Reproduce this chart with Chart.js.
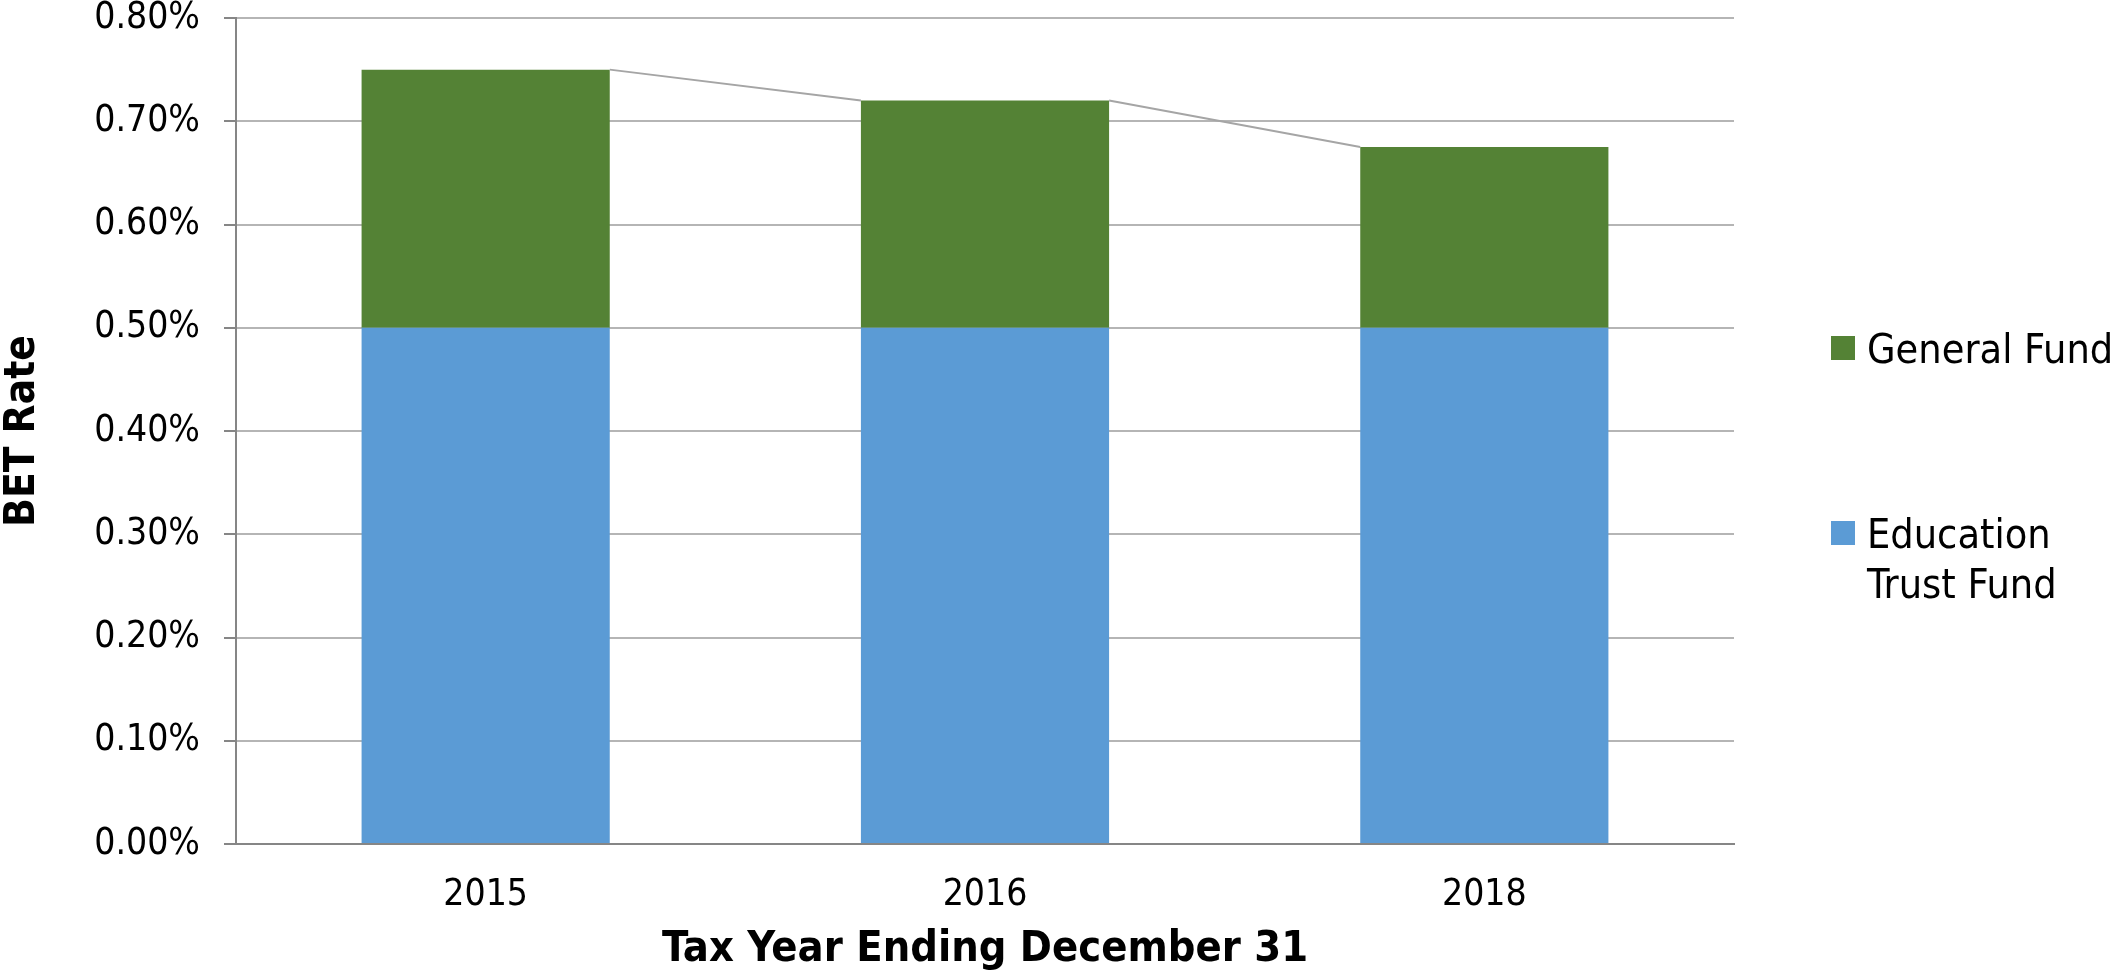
<!DOCTYPE html>
<html>
<head>
<meta charset="utf-8">
<title>BET Rate</title>
<script src="https://cdn.jsdelivr.net/npm/chart.js@4.4.0/dist/chart.umd.min.js"></script>
<style>
  html, body { margin: 0; padding: 0; background: #ffffff; }
  canvas { display: block; }
</style>
</head>
<body>
<canvas id="betChart" width="2119" height="973"></canvas>
<script>
// BET rate split by fund, percent
const years = ['2015', '2016', '2018'];
const educationTrustFund = [0.50, 0.50, 0.50];
const generalFund = [0.25, 0.22, 0.175];
const seriesNames = ['Education Trust Fund', 'General Fund'];
const legendLines = [['General Fund'], ['Education', 'Trust Fund']];

const FONT = "'DejaVu Sans Condensed', 'DejaVu Sans', sans-serif";
const blue = '#5b9bd5';
const green = '#548235';
const gridGray = '#b5b5b5';
const axisGray = '#868686';

// gray connector lines between the stack tops (like Excel series lines)
const seriesLines = {
    id: 'seriesLines',
    afterDatasetsDraw(chart) {
        const meta = chart.getDatasetMeta(chart.data.datasets.length - 1);
        const ctx = chart.ctx;
        ctx.save();
        ctx.strokeStyle = '#a5a5a5';
        ctx.lineWidth = 2;
        for (let i = 0; i < meta.data.length - 1; i++) {
            const a = meta.data[i];
            const b = meta.data[i + 1];
            ctx.beginPath();
            ctx.moveTo(a.x + a.width / 2, a.y);
            ctx.lineTo(b.x - b.width / 2, b.y);
            ctx.stroke();
        }
        ctx.restore();
    }
};

// legend on the right, top entry = top of the stack
const sideLegend = {
    id: 'sideLegend',
    afterDraw(chart) {
        const ctx = chart.ctx;
        const area = chart.chartArea;
        const colors = [green, blue];
        const baselines = [area.top + 345, area.top + 530];
        ctx.save();
        ctx.font = '41px ' + FONT;
        ctx.textAlign = 'left';
        ctx.textBaseline = 'alphabetic';
        legendLines.forEach((lines, i) => {
            const y = baselines[i];
            ctx.fillStyle = colors[i];
            ctx.fillRect(area.right + 97, y - 27, 24, 24);
            ctx.fillStyle = '#000000';
            lines.forEach((line, j) => {
                ctx.fillText(line, area.right + 133, y + j * 49.5);
            });
        });
        ctx.restore();
    }
};

const ctx = document.getElementById('betChart').getContext('2d');
new Chart(ctx, {
    type: 'bar',
    data: {
        labels: years,
        datasets: [
            {
                label: seriesNames[0],
                data: educationTrustFund,
                backgroundColor: blue,
                borderWidth: 0,
            },
            {
                label: seriesNames[1],
                data: generalFund,
                backgroundColor: green,
                borderWidth: 0,
            },
        ],
    },
    options: {
        responsive: false,
        animation: false,
        devicePixelRatio: 1,
        layout: {
            padding: { top: 18, right: 385, bottom: 0, left: 0 },
        },
        datasets: {
            bar: {
                categoryPercentage: 0.497,
                barPercentage: 1.0,
            },
        },
        plugins: {
            legend: { display: false },
            tooltip: { enabled: false },
        },
        scales: {
            x: {
                stacked: true,
                grid: { display: false, drawTicks: false },
                border: { display: true, color: axisGray, width: 2 },
                ticks: {
                    color: '#000000',
                    padding: 29,
                    font: { family: FONT, size: 37 },
                },
                title: {
                    display: true,
                    text: 'Tax Year Ending December 31',
                    color: '#000000',
                    padding: { top: 0, bottom: 2 },
                    font: { family: FONT, size: 43, weight: 'bold', lineHeight: 1.0 },
                },
                afterFit(scale) {
                    scale.height = 129;
                },
            },
            y: {
                stacked: true,
                min: 0,
                max: 0.8,
                grid: {
                    color: (c) => (c.tick && c.tick.value === 0 ? axisGray : gridGray),
                    lineWidth: 2,
                    tickLength: 12,
                    tickColor: axisGray,
                },
                border: { display: true, color: axisGray, width: 2 },
                ticks: {
                    stepSize: 0.1,
                    color: '#000000',
                    padding: 24,
                    font: { family: FONT, size: 37 },
                    callback: (v) => v.toFixed(2) + '%',
                },
                title: {
                    display: true,
                    text: 'BET Rate',
                    color: '#000000',
                    padding: { top: 2, bottom: 0 },
                    font: { family: FONT, size: 42, weight: 'bold', lineHeight: 1.0 },
                },
                afterFit(scale) {
                    scale.width = 236;
                    scale.paddingTop = 0;
                    scale.paddingBottom = 0;
                },
            },
        },
    },
    plugins: [seriesLines, sideLegend],
});
</script>
</body>
</html>
